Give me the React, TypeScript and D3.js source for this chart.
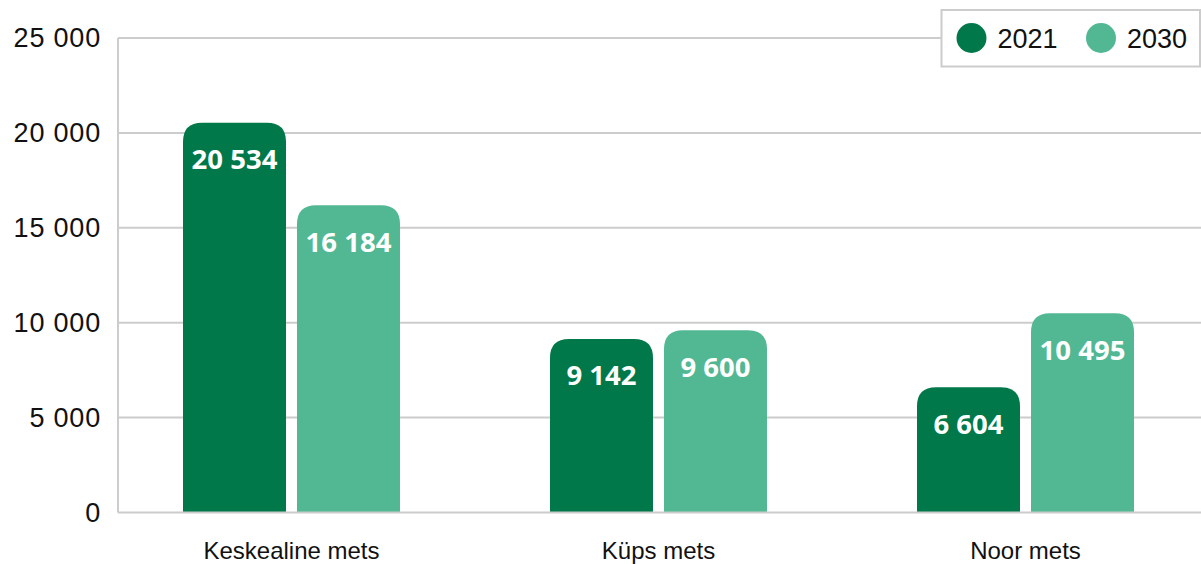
import React from "react";
import * as d3 from "d3";

const categories = ["Keskealine mets", "Küps mets", "Noor mets"];
const seriesNames = ["2021", "2030"];
const values2021 = [20534, 9142, 6604];
const values2030 = [16184, 9600, 10495];
const yTicks = [0, 5000, 10000, 15000, 20000, 25000];

const W = 1201;
const H = 564;
const colors = ["#00784a", "#52b893"];
const grid = "#cccccc";

const locale = d3.formatLocale({ decimal: ",", thousands: "\u00a0", grouping: [3], currency: ["", ""] });
const fmt = locale.format(",d");

function topRounded(x: number, y: number, w: number, h: number, r: number) {
  const rr = Math.min(r, w / 2, h);
  return `M${x},${y + h}V${y + rr}Q${x},${y} ${x + rr},${y}H${x + w - rr}Q${x + w},${y} ${x + w},${y + rr}V${y + h}Z`;
}

export default function App() {
  const y = d3.scaleLinear().domain([0, 25000]).range([512.5, 38]);
  const x0 = d3.scaleBand<string>().domain(categories).range([108, 1209]).padding(0);
  const groupW = 217;
  const x1 = d3.scaleBand<string>().domain(seriesNames).range([0, groupW]).paddingInner(0.0965).paddingOuter(0);
  const series = [values2021, values2030];
  const plotLeft = 118;
  const legendX = 941.5;

  return (
    <svg width={W} height={H} style={{ position: "absolute", left: 0, top: 0, background: "#fff" }}>
      {yTicks.map((t) => (
        <g key={t}>
          {t > 0 && (
            <line x1={plotLeft} x2={t === 25000 ? legendX : W} y1={y(t)} y2={y(t)} stroke={grid} strokeWidth={2} />
          )}
          <text
            x={101}
            y={y(t)}
            textAnchor="end"
            dominantBaseline="central"
            fontFamily="Liberation Sans, Arial, sans-serif"
            fontSize={27}
            letterSpacing={0.8}
            fill="#111"
          >
            {fmt(t)}
          </text>
        </g>
      ))}
      <line x1={plotLeft} x2={plotLeft} y1={y(25000)} y2={y(0)} stroke={grid} strokeWidth={2} />
      {categories.map((c, i) => {
        const gx = (x0(c) as number) + (x0.bandwidth() - groupW) / 2;
        return (
          <g key={c}>
            {seriesNames.map((s, j) => {
              const v = series[j][i];
              const bx = gx + (x1(s) as number);
              const bw = x1.bandwidth();
              const top = y(v);
              return (
                <g key={s}>
                  <path d={topRounded(bx, top, bw, y(0) - top, 19)} fill={colors[j]} />
                  <text
                    x={bx + bw / 2}
                    y={top + 36}
                    textAnchor="middle"
                    dominantBaseline="central"
                    fontFamily="Open Sans, Noto Sans, sans-serif"
                    fontWeight="bold"
                    fontSize={27.5}
                    fill="#fff"
                  >
                    {fmt(v)}
                  </text>
                </g>
              );
            })}
            <text
              x={(x0(c) as number) + x0.bandwidth() / 2}
              y={550}
              textAnchor="middle"
              dominantBaseline="central"
              fontFamily="Liberation Sans, Arial, sans-serif"
              fontSize={24}
              fill="#111"
            >
              {c}
            </text>
          </g>
        );
      })}
      <line x1={plotLeft} x2={W} y1={y(0)} y2={y(0)} stroke={grid} strokeWidth={2} />
      <g>
        <rect x={legendX} y={10} width={W - legendX - 1} height={56.5} fill="#fff" stroke={grid} strokeWidth={2} />
        {seriesNames.map((s, j) => {
          const cx = 971.5 + j * 129.5;
          return (
            <g key={s}>
              <circle cx={cx} cy={38} r={15} fill={colors[j]} />
              <text
                x={cx + 26}
                y={39}
                dominantBaseline="central"
                fontFamily="Liberation Sans, Arial, sans-serif"
                fontSize={27}
                fill="#111"
              >
                {s}
              </text>
            </g>
          );
        })}
      </g>
    </svg>
  );
}
